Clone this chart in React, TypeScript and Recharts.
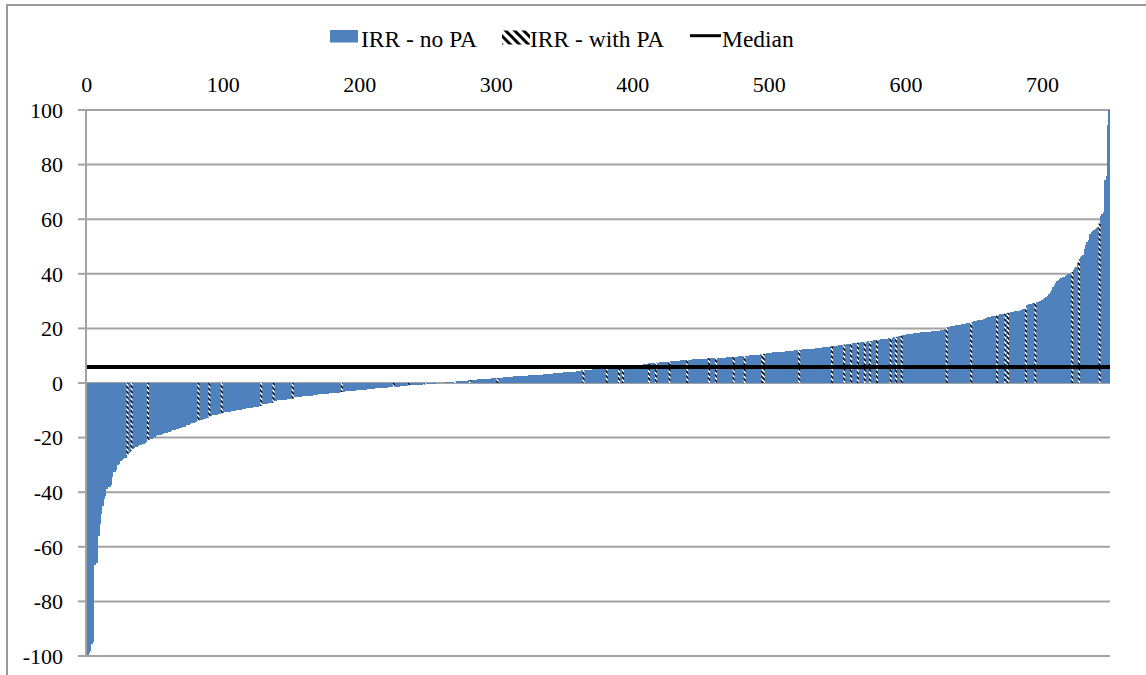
import {
  BarChart,
  Bar,
  XAxis,
  YAxis,
  CartesianGrid,
  ReferenceLine,
  Legend,
} from "recharts";

// IRR per project, sorted ascending
const irrValues = [
  -100, -99.5, -98.8, -98, -95.5, -95, -66.5, -66, -66, -56,
  -51.5, -48, -45, -42.5, -41.5, -39, -38, -38, -37.5, -34.5,
  -32.5, -32.5, -32, -30, -29.5, -28.5, -28.2, -28, -27.6, -27.3,
  -26.8, -25.6, -25.2, -24.8, -24.3, -23.9, -23.6, -23.3, -23.1, -22.8,
  -22.6, -22.4, -22.2, -22, -21.6, -21.2, -20.8, -20.6, -20.4, -20.2,
  -19.6, -19.4, -19.2, -19.1, -19, -18.9, -18.7, -18.4, -18.3, -18.2,
  -18.1, -18, -17.5, -17.3, -17.2, -17.1, -16.8, -16.7, -16.6, -16.5,
  -16.2, -16.1, -16, -15.5, -15.4, -15.3, -15.2, -14.8, -14.7, -14.6,
  -14.3, -14.1, -14, -13.6, -13.5, -13.4, -13.2, -13.1, -13, -12.9,
  -12.6, -12, -11.9, -11.9, -11.8, -11.7, -11.6, -11.5, -11.4, -11.2,
  -10.9, -10.8, -10.7, -10.6, -10.5, -10.5, -10.4, -10.3, -10.2, -10.1,
  -10, -9.9, -9.9, -9.8, -9.7, -9.6, -9.4, -9.3, -9.2, -9.1,
  -9, -9, -8.9, -8.9, -8.8, -8.8, -8.7, -8.6, -8.4, -7.8,
  -7.7, -7.6, -7.6, -7.5, -7.5, -7.4, -7.3, -7.2, -6.7, -6.5,
  -6.4, -6.3, -6.3, -6.2, -6.2, -6.1, -6.1, -6, -6, -5.9,
  -5.9, -5.8, -5.3, -5.2, -5.1, -5.1, -5, -5, -4.9, -4.9,
  -4.8, -4.8, -4.7, -4.7, -4.6, -4.6, -4.5, -4.5, -4.4, -4.3,
  -4.2, -4.2, -4.1, -4.1, -4, -4, -3.9, -3.9, -3.8, -3.8,
  -3.7, -3.7, -3.6, -3.6, -3.5, -3.5, -3.4, -3.3, -3.2, -3.2,
  -3.1, -3.1, -3, -3, -2.9, -2.9, -2.8, -2.8, -2.7, -2.7,
  -2.6, -2.6, -2.5, -2.5, -2.4, -2.4, -2.3, -2.3, -2.2, -2.2,
  -2.1, -2.1, -2, -2, -1.9, -1.9, -1.9, -1.8, -1.8, -1.7,
  -1.7, -1.6, -1.6, -1.5, -1.5, -1.4, -1.4, -1.3, -1.3, -1.3,
  -1.2, -1.2, -1.1, -1.1, -1, -1, -0.9, -0.9, -0.9, -0.8,
  -0.8, -0.8, -0.7, -0.7, -0.7, -0.6, -0.6, -0.5, -0.5, -0.4,
  -0.4, -0.3, -0.3, -0.3, -0.2, -0.2, -0.1, -0.1, 0, 0,
  0.1, 0.1, 0.1, 0.2, 0.2, 0.3, 0.3, 0.4, 0.4, 0.5,
  0.5, 0.6, 0.6, 0.7, 0.7, 0.7, 0.8, 0.8, 0.9, 0.9,
  1, 1, 1.1, 1.1, 1.2, 1.2, 1.2, 1.3, 1.3, 1.4,
  1.4, 1.5, 1.5, 1.5, 1.6, 1.6, 1.6, 1.7, 1.7, 1.7,
  1.8, 1.8, 1.9, 1.9, 2, 2, 2.1, 2.1, 2.2, 2.2,
  2.3, 2.3, 2.3, 2.4, 2.4, 2.4, 2.5, 2.5, 2.5, 2.6,
  2.6, 2.6, 2.7, 2.7, 2.8, 2.8, 2.8, 2.9, 2.9, 2.9,
  3, 3, 3, 3.1, 3.1, 3.2, 3.2, 3.3, 3.3, 3.3,
  3.4, 3.4, 3.5, 3.5, 3.6, 3.6, 3.7, 3.7, 3.8, 3.8,
  3.9, 3.9, 3.9, 4, 4, 4.1, 4.1, 4.2, 4.2, 4.3,
  4.4, 4.4, 4.5, 4.6, 4.7, 4.8, 4.8, 4.8, 4.9, 4.9,
  4.9, 5, 5, 5, 5, 5.1, 5.1, 5.1, 5.1, 5.2,
  5.2, 5.2, 5.2, 5.3, 5.3, 5.3, 5.3, 5.4, 5.4, 5.4,
  5.5, 5.5, 5.5, 5.6, 5.6, 5.6, 5.7, 5.7, 5.8, 5.8,
  5.9, 5.9, 6, 6, 6.1, 6.2, 6.6, 6.7, 6.8, 6.9,
  6.9, 7, 7.1, 7.3, 7.3, 7.4, 7.4, 7.5, 7.5, 7.5,
  7.6, 7.6, 7.6, 7.7, 7.7, 7.7, 7.8, 7.9, 8, 8.1,
  8.1, 8.1, 8.2, 8.2, 8.2, 8.3, 8.3, 8.3, 8.4, 8.4,
  8.5, 8.6, 8.6, 8.6, 8.7, 8.7, 8.7, 8.7, 8.8, 8.8,
  8.8, 8.8, 8.9, 8.9, 8.9, 9, 9, 9, 9.1, 9.1,
  9.1, 9.2, 9.2, 9.2, 9.2, 9.3, 9.3, 9.3, 9.3, 9.4,
  9.4, 9.4, 9.5, 9.5, 9.6, 9.6, 9.7, 9.7, 9.8, 9.8,
  9.8, 9.9, 9.9, 10, 10, 10, 10.1, 10.1, 10.1, 10.2,
  10.2, 10.3, 10.3, 10.4, 10.5, 10.6, 10.7, 10.8, 10.9, 11,
  11, 11.1, 11.1, 11.2, 11.3, 11.3, 11.4, 11.4, 11.4, 11.5,
  11.5, 11.5, 11.6, 11.6, 11.6, 11.7, 11.7, 11.8, 11.9, 12,
  12, 12.1, 12.1, 12.2, 12.2, 12.3, 12.4, 12.4, 12.5, 12.5,
  12.5, 12.6, 12.6, 12.6, 12.7, 12.7, 12.8, 12.8, 13, 13.1,
  13.1, 13.2, 13.2, 13.3, 13.3, 13.4, 13.4, 13.5, 13.6, 13.7,
  13.7, 13.8, 13.8, 13.9, 14, 14.1, 14.1, 14.2, 14.3, 14.4,
  14.4, 14.5, 14.5, 14.6, 14.7, 14.8, 14.8, 14.9, 15, 15,
  15.1, 15.2, 15.3, 15.3, 15.4, 15.5, 15.5, 15.6, 15.7, 15.8,
  15.8, 15.9, 16, 16, 16.1, 16.2, 16.2, 16.3, 16.4, 16.5,
  16.6, 16.7, 16.8, 16.9, 17, 17.1, 17.2, 17.3, 17.4, 17.6,
  17.7, 17.8, 17.9, 18, 18, 18.1, 18.2, 18.2, 18.3, 18.4,
  18.4, 18.5, 18.5, 18.6, 18.6, 18.7, 18.7, 18.8, 18.8, 18.9,
  18.9, 19, 19, 19.1, 19.2, 19.2, 19.3, 19.4, 19.5, 19.6,
  20.2, 20.5, 20.6, 20.7, 20.8, 20.9, 21, 21.1, 21.2, 21.3,
  21.4, 21.5, 21.5, 21.6, 21.7, 21.8, 21.9, 22, 22.2, 22.5,
  22.6, 22.7, 22.8, 22.9, 23, 23.1, 23.2, 23.3, 23.5, 23.7,
  24, 24.2, 24.3, 24.4, 24.5, 24.6, 24.7, 24.8, 25, 25.1,
  25.2, 25.3, 25.4, 25.5, 25.6, 25.7, 25.8, 25.9, 26, 26.1,
  26.2, 26.3, 26.4, 26.5, 26.6, 26.8, 27, 27.2, 27.5, 28.5,
  28.8, 29, 29.1, 29.2, 29.3, 29.5, 29.6, 29.8, 30, 30.1,
  30.3, 30.6, 31, 31.5, 32, 32.5, 33.2, 34, 35, 36,
  36.8, 37.4, 37.8, 38.2, 38.5, 38.8, 39, 39.3, 39.6, 39.9,
  40.1, 40.3, 40.6, 41.5, 42, 42.5, 44, 45.2, 46.3, 46.6,
  47, 49, 50.5, 51.5, 52.5, 54.5, 55.2, 55.6, 56, 56.4,
  56.8, 57.2, 58.5, 61.3, 61.8, 62.5, 74.4, 76, 94.6, 100,
];

// positions (in the sorted list) of projects with PA
const withPAPositions = [
  30, 33, 45, 82, 90, 99, 128, 137, 151, 187, 225, 236, 248, 270, 281, 301,
  364, 381, 390, 393, 412, 417, 427, 440, 456, 461, 474, 482, 495, 496, 522,
  546, 555, 560, 565, 570, 574, 579, 589, 593, 597, 630, 648, 667, 673, 675,
  688, 695, 722, 727, 742,
];

const medianIRR = 5.9;
const yTicks = [-100, -80, -60, -40, -20, 0, 20, 40, 60, 80, 100];

const paSet = new Set(withPAPositions);
const data = irrValues.map((v, i) => ({
  i,
  noPA: paSet.has(i) ? null : v,
  withPA: paSet.has(i) ? v : null,
}));

const FONT = '"Liberation Serif", "Times New Roman", serif';
const BLUE = "#4F81BD";
const GRID = "#a3a3a3";
const PLOT_W = 1024;

const tickStyle = { fontSize: 22, fontFamily: FONT, fill: "#000" };

// recharts rounds the bar width down to 1px; draw each bar over its full slot
const slot = PLOT_W / irrValues.length;

const BlueBar = (props: any) => {
  const { x, y, width, height } = props;
  if (!height) return null;
  const top = height < 0 ? y + height : y;
  const cx = x + width / 2;
  return (
    <rect
      x={cx - slot / 2 - 0.2}
      y={top}
      width={slot + 0.4}
      height={Math.abs(height)}
      fill={BLUE}
      shapeRendering="crispEdges"
    />
  );
};

const HatchBar = (props: any) => {
  const { x, y, width, height } = props;
  if (!height) return null;
  const top = height < 0 ? y + height : y;
  const cx = x + width / 2;
  return (
    <rect x={cx - 1} y={top} width={2} height={Math.abs(height)} fill="url(#hatchPA)" />
  );
};

const LegendBox = () => (
  <svg width={480} height={28} style={{ display: "block" }}>
    <defs>
      <pattern id="legendHatch" patternUnits="userSpaceOnUse" width={9} height={9}>
        <rect width={9} height={9} fill="#fff" />
        <path d="M0,0 L9,9 M-2,7 L2,11 M7,-2 L11,2" stroke="#000" strokeWidth={3} />
      </pattern>
    </defs>
    <rect x={0} y={4} width={28} height={12.5} fill={BLUE} />
    <text x={31} y={20.7} fontSize={23.5} fontFamily={FONT} fill="#000">
      IRR - no PA
    </text>
    <rect x={172} y={4.5} width={28} height={14} fill="url(#legendHatch)" />
    <text x={200} y={20.7} fontSize={23.5} fontFamily={FONT} fill="#000">
      IRR - with PA
    </text>
    <line x1={360} x2={391} y1={9.7} y2={9.7} stroke="#000" strokeWidth={3} />
    <text x={392} y={20.7} fontSize={23.5} fontFamily={FONT} fill="#000">
      Median
    </text>
  </svg>
);

const App = () => {
  return (
    <div
      style={{
        position: "absolute",
        left: 0,
        top: 0,
        width: 1146,
        height: 675,
        overflow: "hidden",
        background: "#fff",
      }}
    >
      <div
        style={{
          position: "absolute",
          left: 6,
          top: 4,
          width: 1200,
          height: 700,
          borderLeft: "2px solid #999",
          borderTop: "2px solid #999",
        }}
      />
      <div style={{ position: "absolute", left: 0, top: 0 }}>
        <BarChart
          width={1146}
          height={675}
          data={data}
          margin={{ top: 70, right: 36, bottom: 19, left: 0 }}
          barCategoryGap={0}
          barGap={0}
          stackOffset="sign"
        >
          <defs>
            <pattern id="hatchPA" patternUnits="userSpaceOnUse" width={5} height={5}>
              <rect width={5} height={5} fill="#fff" />
              <path d="M0,0 L5,5 M-1,4 L1,6 M4,-1 L6,1" stroke="#000" strokeWidth={1.8} />
            </pattern>
          </defs>
          <CartesianGrid vertical={false} stroke={GRID} strokeWidth={2} />
          <XAxis
            dataKey="i"
            orientation="top"
            height={40}
            interval={99}
            tickLine={false}
            axisLine={false}
            tickMargin={12}
            tick={tickStyle}
          />
          <YAxis
            width={86}
            domain={[-100, 100]}
            ticks={yTicks}
            interval={0}
            tickSize={8}
            tickMargin={15}
            tickLine={{ stroke: GRID, strokeWidth: 2 }}
            axisLine={{ stroke: GRID, strokeWidth: 2 }}
            tick={tickStyle}
          />
          <Legend
            layout="horizontal"
            verticalAlign="middle"
            align="center"
            wrapperStyle={{ left: 330, top: 26, width: 480, height: 28 }}
            content={() => <LegendBox />}
          />
          <Bar
            dataKey="noPA"
            name="IRR - no PA"
            stackId="irr"
            fill={BLUE}
            shape={BlueBar}
            isAnimationActive={false}
          />
          <Bar
            dataKey="withPA"
            name="IRR - with PA"
            stackId="irr"
            fill="url(#hatchPA)"
            shape={HatchBar}
            isAnimationActive={false}
          />
          <ReferenceLine y={medianIRR} stroke="#000" strokeWidth={4} />
        </BarChart>
      </div>
    </div>
  );
};

export default App;
